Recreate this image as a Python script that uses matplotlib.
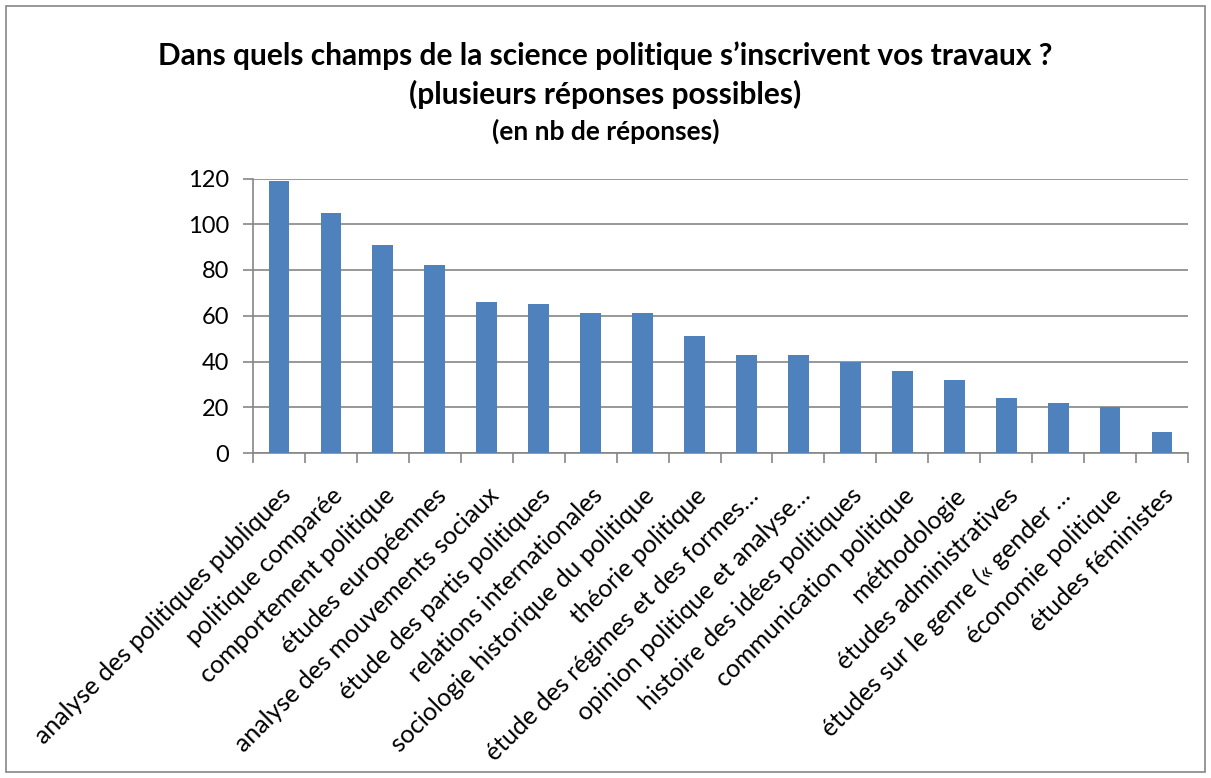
import matplotlib
matplotlib.use("Agg")
import matplotlib.pyplot as plt
from matplotlib.patches import Rectangle
import numpy as np

categories = [
    "analyse des politiques publiques",
    "politique comparée",
    "comportement politique",
    "études européennes",
    "analyse des mouvements sociaux",
    "étude des partis politiques",
    "relations internationales",
    "sociologie historique du politique",
    "théorie politique",
    "étude des régimes et des formes…",
    "opinion politique et analyse…",
    "histoire des idées politiques",
    "communication politique",
    "méthodologie",
    "études administratives",
    "études sur le genre (« gender …",
    "économie politique",
    "études féministes",
]
values = [119, 105, 91, 82, 66, 65, 61, 61, 51, 43, 43, 40, 36, 32, 24, 22, 20, 9]
yticks = [0, 20, 40, 60, 80, 100, 120]

plt.rcParams['font.family'] = ['Lato', 'DejaVu Sans']
grey = "#868686"

fig = plt.figure(figsize=(12.11, 7.78), dpi=100)
ax = fig.add_axes([253 / 1211, 1 - 453 / 778, (1188 - 253) / 1211, (453 - 178.5) / 778])

x = np.arange(len(categories))
ax.bar(x, values, width=0.4, color="#4F81BD", zorder=3)

ax.set_xlim(-0.5, len(categories) - 0.5)
ax.set_ylim(0, 120)
ax.set_yticks(yticks)
ax.set_yticklabels([str(v) for v in yticks], fontsize=17)
ax.yaxis.grid(True, color=grey, linewidth=1.2, zorder=0)
ax.set_axisbelow(True)

ax.set_xticks(x)
ax.set_xticklabels(categories, rotation=45, ha="right", rotation_mode="anchor", fontsize=18)
ax.set_xticks(np.arange(len(categories) + 1) - 0.5, minor=True)
ax.tick_params(axis="x", which="major", length=0, pad=22)
ax.tick_params(axis="x", which="minor", length=7, color=grey, width=1.2)
ax.tick_params(axis="y", length=7, color=grey, width=1.2, pad=10)

for s in ["top", "right"]:
    ax.spines[s].set_visible(False)
for s in ["left", "bottom"]:
    ax.spines[s].set_color(grey)
    ax.spines[s].set_linewidth(1.2)

fig.text(0.5, 1 - 56 / 778, "Dans quels champs de la science politique s’inscrivent vos travaux ?",
         ha="center", va="center", fontsize=21.5, fontweight="bold")
fig.text(0.5, 1 - 94 / 778, "(plusieurs réponses possibles)",
         ha="center", va="center", fontsize=21.5, fontweight="bold")
fig.text(0.5, 1 - 131 / 778, "(en nb de réponses)",
         ha="center", va="center", fontsize=19, fontweight="bold")

fig.patches.append(Rectangle((6 / 1211, 6 / 778), 1 - 12 / 1211, 1 - 12 / 778,
                             transform=fig.transFigure, fill=False,
                             edgecolor=grey, linewidth=1.2))

fig.savefig("out.png", dpi=100)
